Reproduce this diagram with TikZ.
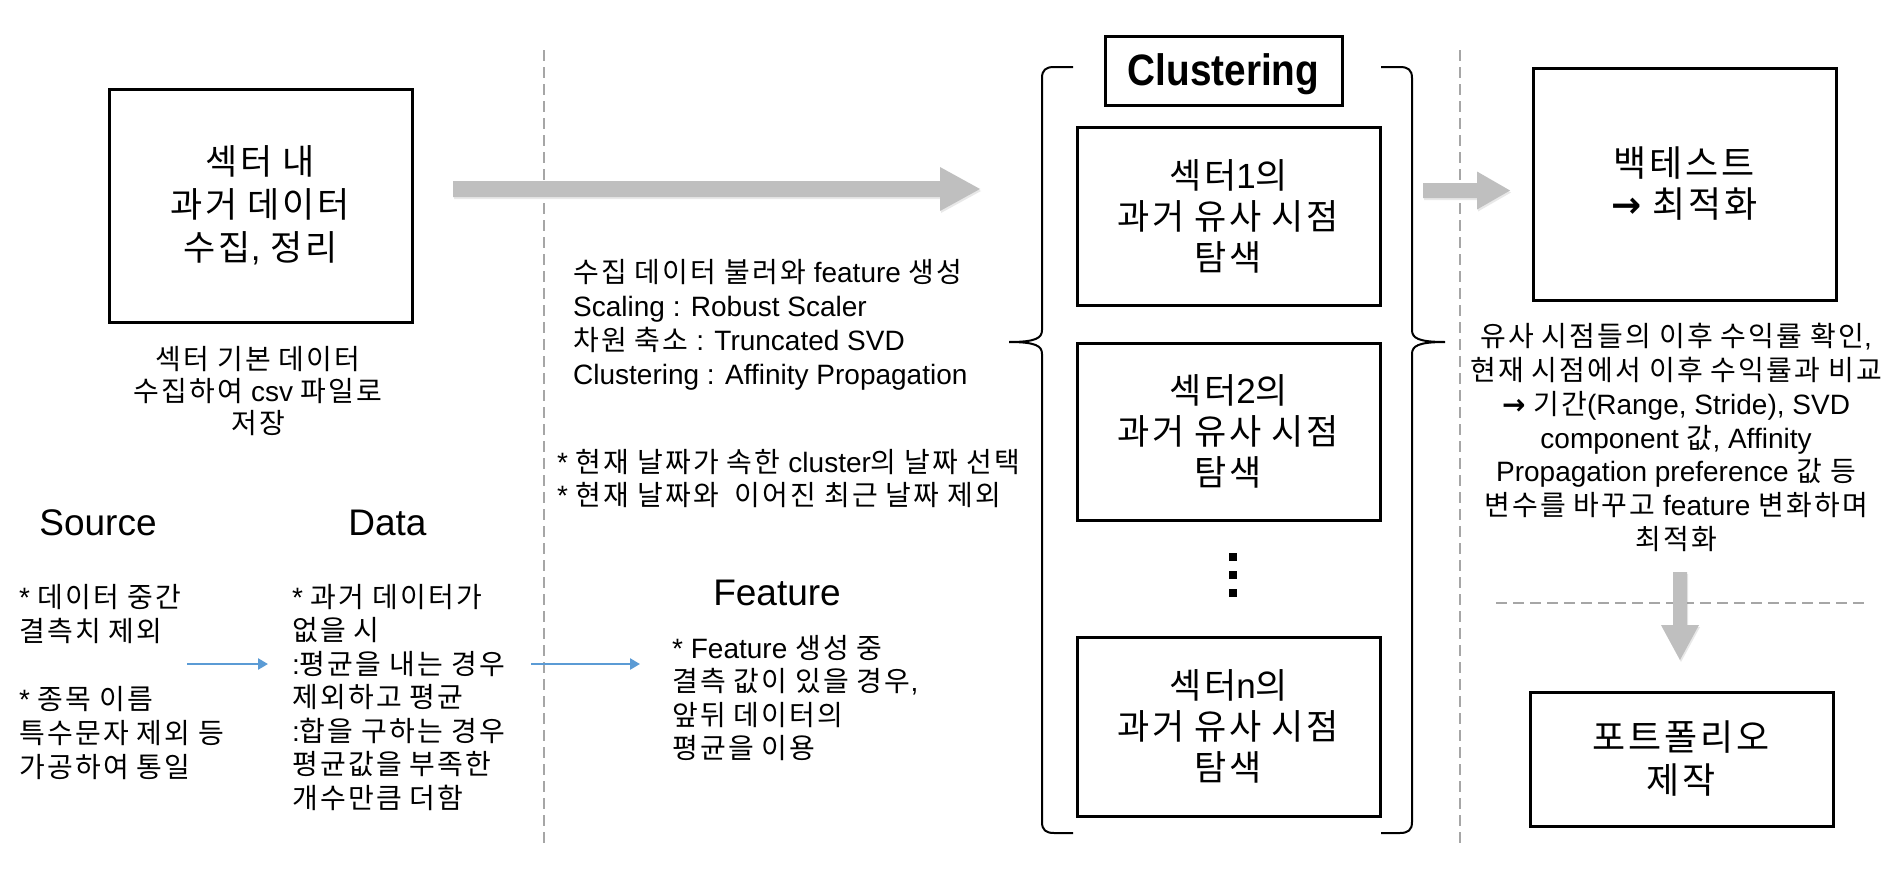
\documentclass[tikz,border=0pt]{standalone}
\usepackage{fontspec}
\usepackage{graphicx}
\usetikzlibrary{calc,arrows.meta,shadows}
\setmainfont{Liberation Sans}
\newfontfamily\latfont{Liberation Sans}
\newfontfamily\krfont[Scale=1.0,LetterSpace=8]{Noto Sans CJK KR}
\newfontfamily\symfont{DejaVu Sans}
\XeTeXinterchartokenstate=1
\newcount\hcnt
\hcnt="AC00
\loop
 \XeTeXcharclass\hcnt=10
 \advance\hcnt by 1
\ifnum\hcnt<"D7A4 \repeat
\XeTeXinterchartoks 0 10 = {\krfont}
\XeTeXinterchartoks 4095 10 = {\krfont}
\XeTeXinterchartoks 10 0 = {\latfont}
\XeTeXinterchartoks 10 4095 = {\latfont}
\definecolor{arrowgray}{RGB}{191,191,191}
\definecolor{dashgray}{RGB}{166,166,166}
\definecolor{arrowblue}{RGB}{91,155,213}
\newcommand{\fatR}[5]{\fill[fatfill] ($(#1)+(0,-#3)$) -- ($(#2)+(-#4,-#3)$) -- ($(#2)+(-#4,-#5)$) -- (#2) -- ($(#2)+(-#4,#5)$) -- ($(#2)+(-#4,#3)$) -- ($(#1)+(0,#3)$) -- cycle;}
\newcommand{\fatD}[5]{\fill[fatfill] ($(#1)+(-#3,0)$) -- ($(#2)+(-#3,-#4)$) -- ($(#2)+(-#5,-#4)$) -- (#2) -- ($(#2)+(#5,-#4)$) -- ($(#2)+(#3,-#4)$) -- ($(#1)+(#3,0)$) -- cycle;}
\newcommand{\rarr}{{\symfont\bfseries →}}
\tikzset{
  sbox/.style={draw, line width=3pt, inner sep=0pt, align=center, minimum width=303pt},
  txt/.style={inner sep=0pt},
  sepline/.style={draw=dashgray, line width=2pt, dash pattern=on 11pt off 6pt},
  bluearrow/.style={draw=arrowblue, line width=2.5pt, -{Triangle[length=10pt,width=11pt]}},
  fatfill/.style={fill=arrowgray, drop shadow={opacity=0.18, shadow xshift=1pt, shadow yshift=-2pt}},
  braceline/.style={draw, line width=2pt},
  dotsq/.style={fill, minimum size=8pt, inner sep=0pt},
  body/.style={font=\fontsize{28}{34}\selectfont},
  title/.style={txt, font=\fontsize{37}{44}\selectfont}
}
\begin{document}
\begin{tikzpicture}[x=1pt,y=-1pt]
\useasboundingbox (0,0) rectangle (1893,878);
\fill[white] (0,0) rectangle (1893,878);

% separators
\coordinate (v1t) at (544,50); \coordinate (v1b) at (544,847);
\coordinate (v2t) at (1460,50); \coordinate (v2b) at (1460,847);
\coordinate (h1l) at (1496,603); \coordinate (h1r) at (1870,603);
\draw[sepline] (v1t) -- (v1b);
\draw[sepline] (v2t) -- (v2b);
\draw[sepline] (h1l) -- (h1r);

% left part
\node[sbox, minimum height=233pt, font=\fontsize{35}{43}\selectfont] (collect) at (260.5,205.5) {섹터 내\\과거 데이터\\수집, 정리};
\node[txt, align=center, font=\fontsize{28}{32}\selectfont] (collectnote) at (258,391) {섹터 기본 데이터\\수집하여 csv 파일로\\저장};

\node[title] (srctitle) at (98,523) {Source};
\node[title] (datatitle) at (387.5,523) {Data};
\node[title] (feattitle) at (777,593) {Feature};

\node[txt, anchor=west, align=left, body] (srcbody) at (19,682) {* 데이터 중간\\결측치 제외\\[34pt]* 종목 이름\\특수문자 제외 등\\가공하여 통일};
\node[txt, anchor=west, align=left, font=\fontsize{28}{33.5}\selectfont] (databody) at (292,697.5) {* 과거 데이터가\\없을 시\\:평균을 내는 경우\\제외하고 평균\\:합을 구하는 경우\\평균값을 부족한\\개수만큼 더함};
\node[txt, anchor=west, align=left, font=\fontsize{28}{33.5}\selectfont] (featbody) at (672,698) {* Feature 생성 중\\결측 값이 있을 경우,\\앞뒤 데이터의\\평균을 이용};

\coordinate (b1s) at (187,664); \coordinate (b1e) at (268,664);
\coordinate (b2s) at (531,664); \coordinate (b2e) at (640,664);
\draw[bluearrow] (b1s) -- (b1e);
\draw[bluearrow] (b2s) -- (b2e);

% middle text
\node[txt, anchor=west, align=left, body] (method) at (573,324.5) {수집 데이터 불러와 feature 생성\\Scaling : Robust Scaler\\차원 축소 : Truncated SVD\\Clustering : Affinity Propagation};
\node[txt, anchor=west, align=left, font=\fontsize{28}{33}\selectfont] (select) at (557,478.5) {* 현재 날짜가 속한 cluster의 날짜 선택\\* 현재 날짜와~ 이어진 최근 날짜 제외};

% big arrow
\coordinate (bigA) at (453,189); \coordinate (bigB) at (980,189);
\fatR{bigA}{bigB}{8}{40}{22}

% clustering
\node[draw, line width=3pt, minimum width=237pt, minimum height=69pt, inner sep=0pt, text height=32pt, text depth=3pt, font=\fontsize{44}{50}\selectfont\bfseries] (clus) at (1223.5,70.5) {\scalebox{0.88}[1]{Clustering}};
\node[sbox, minimum height=178pt, font=\fontsize{35}{41}\selectfont] (s1) at (1228.5,216) {섹터1의\\과거 유사 시점\\탐색};
\node[sbox, minimum height=177pt, font=\fontsize{35}{41}\selectfont] (s2) at (1228.5,431.5) {섹터2의\\과거 유사 시점\\탐색};
\node[sbox, minimum height=179pt, font=\fontsize{35}{41}\selectfont] (sn) at (1228.5,726.5) {섹터n의\\과거 유사 시점\\탐색};
\node[dotsq] (d1) at (1233,557) {};
\node[dotsq] (d2) at (1233,575) {};
\node[dotsq] (d3) at (1233,593) {};

\draw[braceline] (1073,67) -- (1054,67) .. controls (1046,67) and (1042,70) .. (1042,78) -- (1042,330) .. controls (1042,338) and (1036,342) .. (1009,342) .. controls (1036,342) and (1042,346) .. (1042,354) -- (1042,822) .. controls (1042,830) and (1046,833) .. (1054,833) -- (1073,833);
\draw[braceline] (1381,67) -- (1400,67) .. controls (1408,67) and (1412,70) .. (1412,78) -- (1412,330) .. controls (1412,338) and (1418,342) .. (1445,342) .. controls (1418,342) and (1412,346) .. (1412,354) -- (1412,822) .. controls (1412,830) and (1408,833) .. (1400,833) -- (1381,833);

% right part
\coordinate (smA) at (1423,190.5); \coordinate (smB) at (1510,190.5);
\fatR{smA}{smB}{7.5}{33}{19}
\node[sbox, minimum height=232pt, font=\fontsize{36}{41}\selectfont] (bt) at (1684.5,184) {백테스트\\\rarr{} 최적화};
\node[txt, align=center, font=\fontsize{28}{33.8}\selectfont] (btnote) at (1676,437.5) {유사 시점들의 이후 수익률 확인,\\현재 시점에서 이후 수익률과 비교\\\rarr{} 기간(Range, Stride), SVD\\component 값, Affinity\\Propagation preference 값 등\\변수를 바꾸고 feature 변화하며\\최적화};
\coordinate (dnA) at (1680,572); \coordinate (dnB) at (1680,660);
\fatD{dnA}{dnB}{7}{35}{19}
\node[sbox, minimum height=134pt, font=\fontsize{36}{43}\selectfont] (pf) at (1681.5,759) {포트폴리오\\제작};
\end{tikzpicture}
\end{document}
